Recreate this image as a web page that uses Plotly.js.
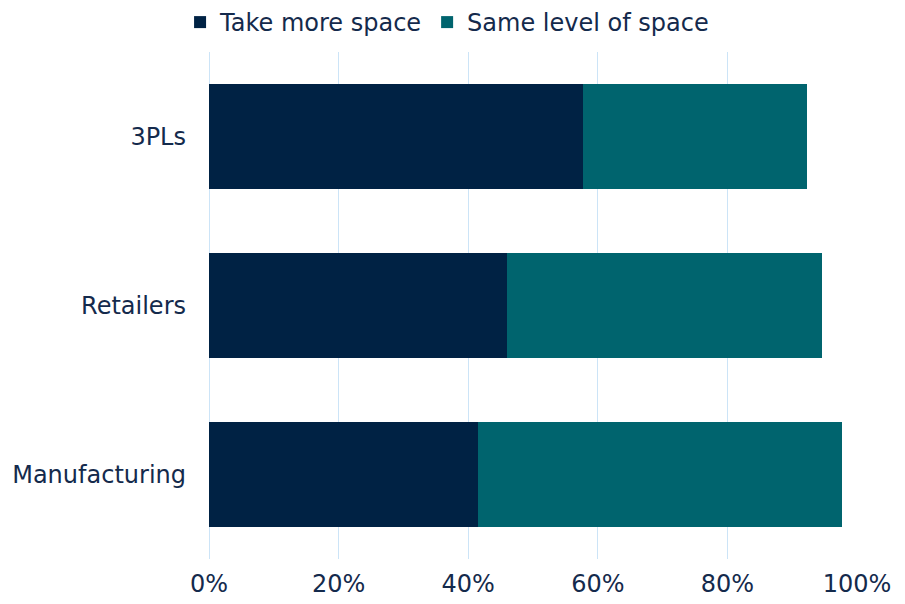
<!DOCTYPE html>
<html><head><meta charset="utf-8">
<script src="https://cdn.plot.ly/plotly-3.0.1.min.js"></script>
<style>html,body{margin:0;padding:0;background:#fff}#chart{width:905px;height:604px}</style>
</head><body><div id="chart"></div>
<script>
const categories = ["3PLs", "Retailers", "Manufacturing"];
const takeMore = [57.7, 46.0, 41.5];
const sameLevel = [34.6, 48.6, 56.2];
const seriesNames = ["Take more space", "Same level of space"];
const tickVals = [0, 20, 40, 60, 80, 100];
const tickText = ["0%", "20%", "40%", "60%", "80%", "100%"];

const textColor = "#142a4c";
const traces = [
  {type: "bar", orientation: "h", name: seriesNames[0], y: categories, x: takeMore,
   marker: {color: "#002244"}, hoverinfo: "x+y"},
  {type: "bar", orientation: "h", name: seriesNames[1], y: categories, x: sameLevel,
   marker: {color: "#00646e"}, hoverinfo: "x+y"}
];
const layout = {
  width: 905, height: 604,
  margin: {l: 209, r: 48, t: 52, b: 45},
  barmode: "stack", bargap: 0.38,
  paper_bgcolor: "#fff", plot_bgcolor: "#fff",
  font: {family: "DejaVu Sans, sans-serif", size: 23, color: textColor},
  showlegend: true,
  legend: {orientation: "h", xref: "container", x: 0.494, xanchor: "center", y: 1.0, yanchor: "top",
           yref: "container", font: {size: 24, color: textColor}, traceorder: "normal",
           itemwidth: 30},
  xaxis: {range: [0, 100], tickvals: tickVals, ticktext: tickText, showgrid: true,
          gridcolor: "#cce4f7", gridwidth: 1, zeroline: true, zerolinecolor: "#cce4f7",
          zerolinewidth: 1, showline: false, ticks: "",
          ticklabelstandoff: 8, fixedrange: true, tickfont: {size: 24}},
  yaxis: {autorange: "reversed", showgrid: false, zeroline: false, showline: false,
          ticks: "", ticklabelstandoff: 22, fixedrange: true, tickfont: {size: 24}}
};
Plotly.newPlot("chart", traces, layout, {displayModeBar: false, staticPlot: true});
</script></body></html>
